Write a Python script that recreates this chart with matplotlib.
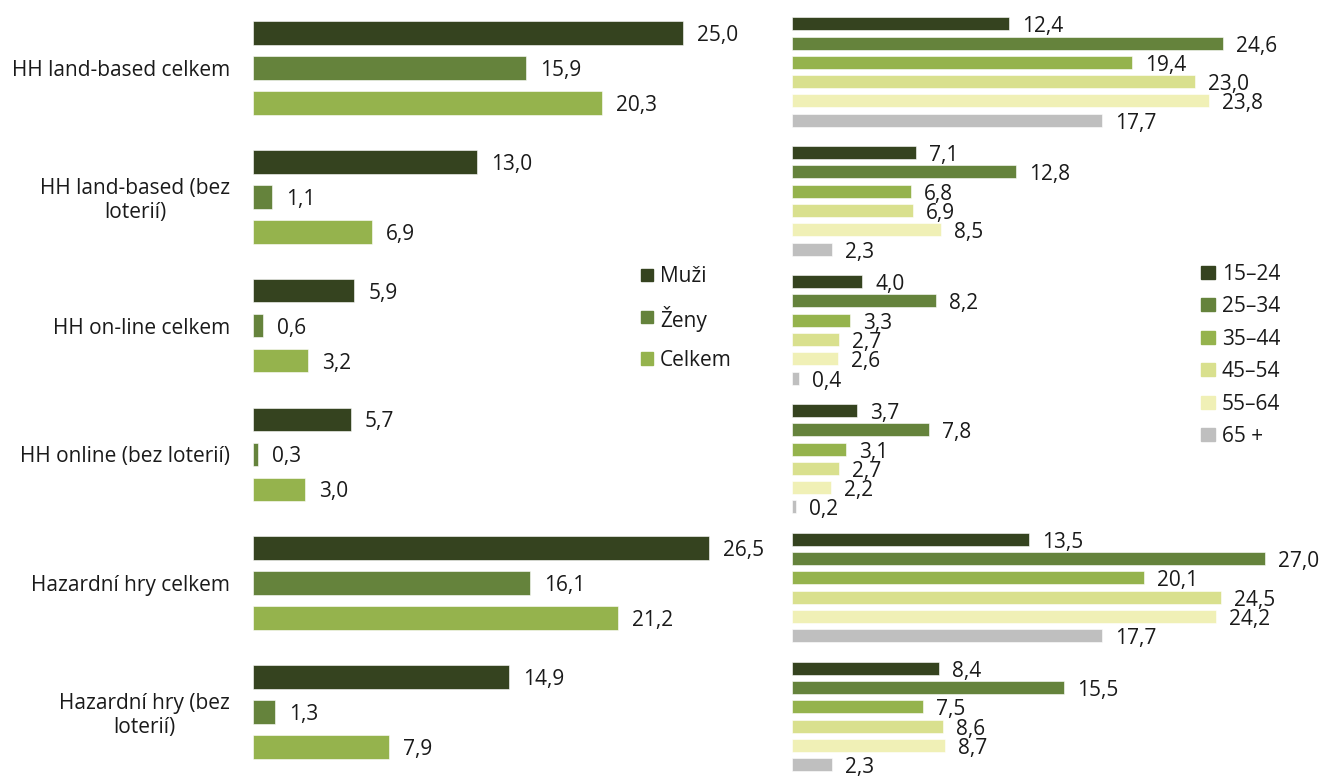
import matplotlib
matplotlib.use('Agg')
import matplotlib.pyplot as plt
from matplotlib.patches import Rectangle

# ---------------- data ----------------
categories = ["HH land-based celkem", "HH land-based (bez\nloterií)", "HH on-line celkem",
              "HH online (bez loterií)", "Hazardní hry celkem", "Hazardní hry (bez\nloterií)"]
gender_labels = ["Muži", "Ženy", "Celkem"]
muzi = [25.0, 13.0, 5.9, 5.7, 26.5, 14.9]
zeny = [15.9, 1.1, 0.6, 0.3, 16.1, 1.3]
celkem = [20.3, 6.9, 3.2, 3.0, 21.2, 7.9]

age_labels = ["15–24", "25–34", "35–44", "45–54", "55–64", "65 +"]
age_15_24 = [12.4, 7.1, 4.0, 3.7, 13.5, 8.4]
age_25_34 = [24.6, 12.8, 8.2, 7.8, 27.0, 15.5]
age_35_44 = [19.4, 6.8, 3.3, 3.1, 20.1, 7.5]
age_45_54 = [23.0, 6.9, 2.7, 2.7, 24.5, 8.6]
age_55_64 = [23.8, 8.5, 2.6, 2.2, 24.2, 8.7]
age_65 = [17.7, 2.3, 0.4, 0.2, 17.7, 2.3]

gender_series = [muzi, zeny, celkem]
age_series = [age_15_24, age_25_34, age_35_44, age_45_54, age_55_64, age_65]

gender_colors = ["#35431F", "#65833C", "#95B34D"]
age_colors = ["#35431F", "#65833C", "#95B34D", "#D9E08E", "#F0F0B6", "#BFBFBF"]

# ---------------- style ----------------
plt.rcParams['font.family'] = ['Open Sans', 'DejaVu Sans']
FS = 15
TXT = "#1a1a1a"

W, H = 1321, 776
fig = plt.figure(figsize=(W / 100, H / 100), dpi=100)
PT = 72 / 100  # points per pixel


def fx(px):
    return px / W


def fy(px):
    return 1 - px / H


def fmt(v):
    return f"{v:.1f}".replace('.', ',')


n = len(categories)

# ---------------- left panel ----------------
L_left, L_width, L_scale = 253, 480, 17.2
L_c0, L_pitch = 68, 128.8
axL = fig.add_axes([fx(L_left), 0, L_width / W, 1])
axL.set_xlim(0, L_width / L_scale)
axL.set_ylim((H - L_c0) / L_pitch, -L_c0 / L_pitch)
offs = [-35 / L_pitch, 0, 35 / L_pitch]
bh = 23.5 / L_pitch
for vals, off, col in zip(gender_series, offs, gender_colors):
    ys = [i + off for i in range(n)]
    bars = axL.barh(ys, vals, height=bh, color=col, edgecolor='white', linewidth=0.4)
    anns = axL.bar_label(bars, labels=[fmt(v) for v in vals],
                         padding=14 * PT, fontsize=FS, color=TXT)
    for a in anns:
        a.xyann = (14 * PT, -2.5 * PT)
axL.set_yticks(range(n))
axL.set_yticklabels(categories, fontsize=FS, color=TXT)
for lab in axL.get_yticklabels():
    lab.set_multialignment('center')
    lab.set_linespacing(1.15)
axL.tick_params(axis='y', length=0, pad=23 * PT)
axL.set_xticks([])
for s in axL.spines.values():
    s.set_visible(False)
axL.patch.set_alpha(0)

# ---------------- right panel ----------------
R_left, R_width, R_scale = 792, 480, 17.53
R_c0, R_pitch = 72, 128.9
axR = fig.add_axes([fx(R_left), 0, R_width / W, 1])
axR.set_xlim(0, R_width / R_scale)
axR.set_ylim((H - R_c0) / R_pitch, -R_c0 / R_pitch)
rb = 19.3 / R_pitch
rh = 13 / R_pitch
for k, (vals, col) in enumerate(zip(age_series, age_colors)):
    ys = [i + (k - 2.5) * rb for i in range(n)]
    bars = axR.barh(ys, vals, height=rh, color=col, edgecolor='white', linewidth=0.4)
    anns = axR.bar_label(bars, labels=[fmt(v) for v in vals],
                         padding=13 * PT, fontsize=FS, color=TXT)
    for a in anns:
        a.xyann = (13 * PT, -3 * PT)
axR.set_yticks([])
axR.set_xticks([])
for s in axR.spines.values():
    s.set_visible(False)
axR.patch.set_alpha(0)

# ---------------- legends ----------------
for i, (lab, col) in enumerate(zip(gender_labels, gender_colors)):
    yc = 274.5 + 42 * i
    fig.patches.append(Rectangle((fx(641), fy(yc + 6)), 12 / W, 12 / H,
                                 transform=fig.transFigure, color=col))
    fig.text(fx(660), fy(yc + 2), lab, va='center', ha='left', fontsize=FS, color=TXT)

for i, (lab, col) in enumerate(zip(age_labels, age_colors)):
    yc = 272.5 + 32.4 * i
    fig.patches.append(Rectangle((fx(1201), fy(yc + 6.5)), 14 / W, 13 / H,
                                 transform=fig.transFigure, color=col))
    fig.text(fx(1222), fy(yc + 2), lab, va='center', ha='left', fontsize=FS, color=TXT)

fig.savefig("out.png", dpi=100)
